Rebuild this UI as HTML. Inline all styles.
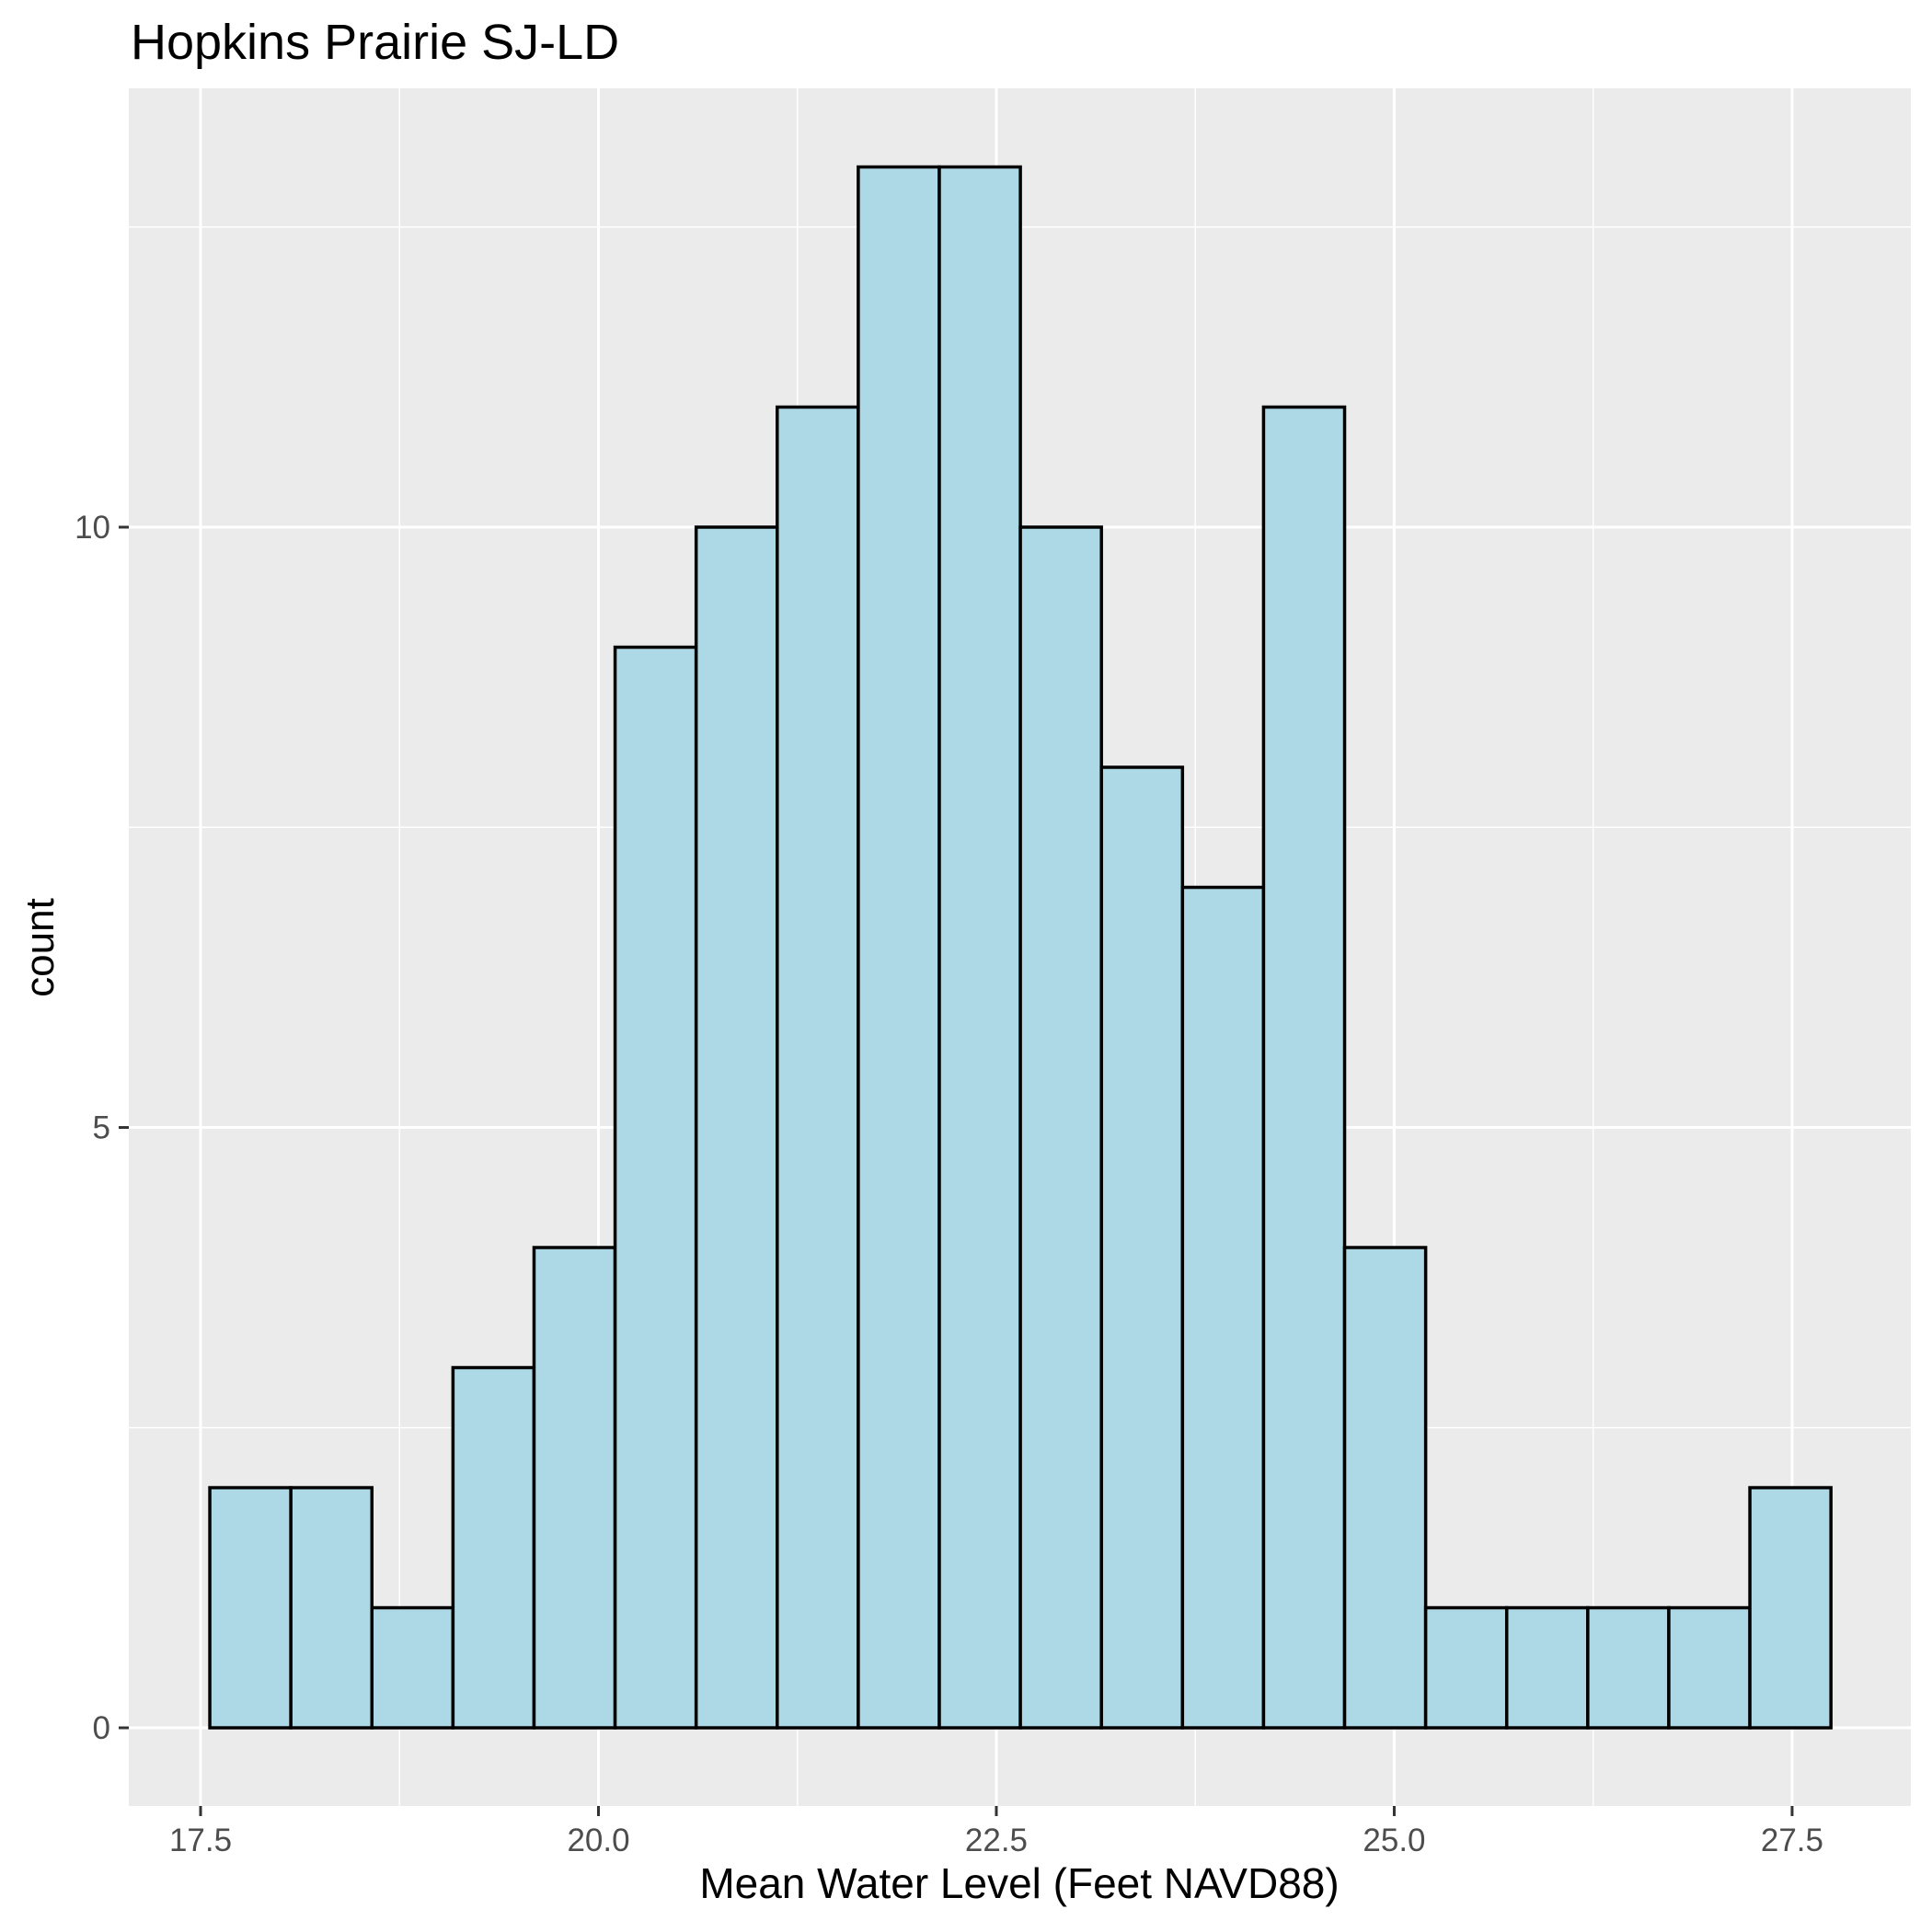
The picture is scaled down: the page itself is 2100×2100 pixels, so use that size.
<!DOCTYPE html>
<html><head><meta charset="utf-8"><style>
html,body{margin:0;padding:0;background:#fff;}
svg{display:block;font-family:"Liberation Sans",Arial,sans-serif;}
</style></head><body>
<svg id="chart" width="2100" height="2100" viewBox="0 0 2100 2100" xmlns="http://www.w3.org/2000/svg">
<rect x="0" y="0" width="2100" height="2100" fill="#fff"/>
<text x="142" y="64" font-size="54" fill="#000">Hopkins Prairie SJ-LD</text>
<rect x="140" y="96" width="1937" height="1867" fill="#EBEBEB"/>
<g id="grid"></g>
<g id="bars"></g>
<g id="axes"></g>
<text x="1108" y="2063" font-size="46" text-anchor="middle" fill="#000">Mean Water Level (Feet NAVD88)</text>
<text transform="translate(58,1030) rotate(-90)" font-size="44" text-anchor="middle" fill="#000">count</text>
</svg>
<script>
const counts = [2,2,1,3,4,9,10,11,13,13,10,8,7,11,4,1,1,1,1,2];
const binStart = 17.558;
const binWidth = 0.5093;
const xTicks = [17.5,20.0,22.5,25.0,27.5];
const xTickLabels = ["17.5","20.0","22.5","25.0","27.5"];
const yTicks = [0,5,10];
const yTickLabels = ["0","5","10"];
const xMinor = [18.75,21.25,23.75,26.25];
const yMinor = [2.5,7.5,12.5];

const L=140,R=2077,T=96,B=1963;
const xMin=17.049,xMax=28.246,yMin=-0.651,yMax=13.655;
const X=v=>L+(v-xMin)/(xMax-xMin)*(R-L);
const Y=v=>B-(v-yMin)/(yMax-yMin)*(B-T);
const NS='http://www.w3.org/2000/svg';
function mk(tag,attrs,parent){const e=document.createElementNS(NS,tag);for(const k in attrs)e.setAttribute(k,attrs[k]);parent.appendChild(e);return e;}
const grid=document.getElementById('grid'),bars=document.getElementById('bars'),axes=document.getElementById('axes');
xMinor.forEach(v=>{const e=mk('line',{x1:X(v),x2:X(v),y1:T,y2:B,stroke:'#fff','stroke-width':1.5},grid);

});
yMinor.forEach(v=>{const e=mk('line',{x1:L,x2:R,y1:Y(v),y2:Y(v),stroke:'#fff','stroke-width':1.5},grid);

});
xTicks.forEach((v,i)=>{const e=mk('line',{x1:X(v),x2:X(v),y1:T,y2:B,stroke:'#fff','stroke-width':3},grid);


const t=mk('line',{x1:X(v),x2:X(v),y1:B,y2:B+11,stroke:'#333','stroke-width':3},axes);


const l=mk('text',{x:X(v),y:2012,'font-size':35,'text-anchor':'middle',fill:'#4D4D4D'},axes);l.textContent=xTickLabels[i];

});
yTicks.forEach((v,i)=>{const e=mk('line',{x1:L,x2:R,y1:Y(v),y2:Y(v),stroke:'#fff','stroke-width':3},grid);


const t=mk('line',{x1:L-11,x2:L,y1:Y(v),y2:Y(v),stroke:'#333','stroke-width':3},axes);


const l=mk('text',{x:L-20,y:Y(v)+12,'font-size':35,'text-anchor':'end',fill:'#4D4D4D'},axes);l.textContent=yTickLabels[i];

});
counts.forEach((c,i)=>{const x0=X(binStart+i*binWidth),x1=X(binStart+(i+1)*binWidth);
const r=mk('rect',{x:x0,y:Y(c),width:x1-x0,height:Y(0)-Y(c),fill:'#ADD8E6',stroke:'#000','stroke-width':3.5},bars);

});
</script>
</body></html>
